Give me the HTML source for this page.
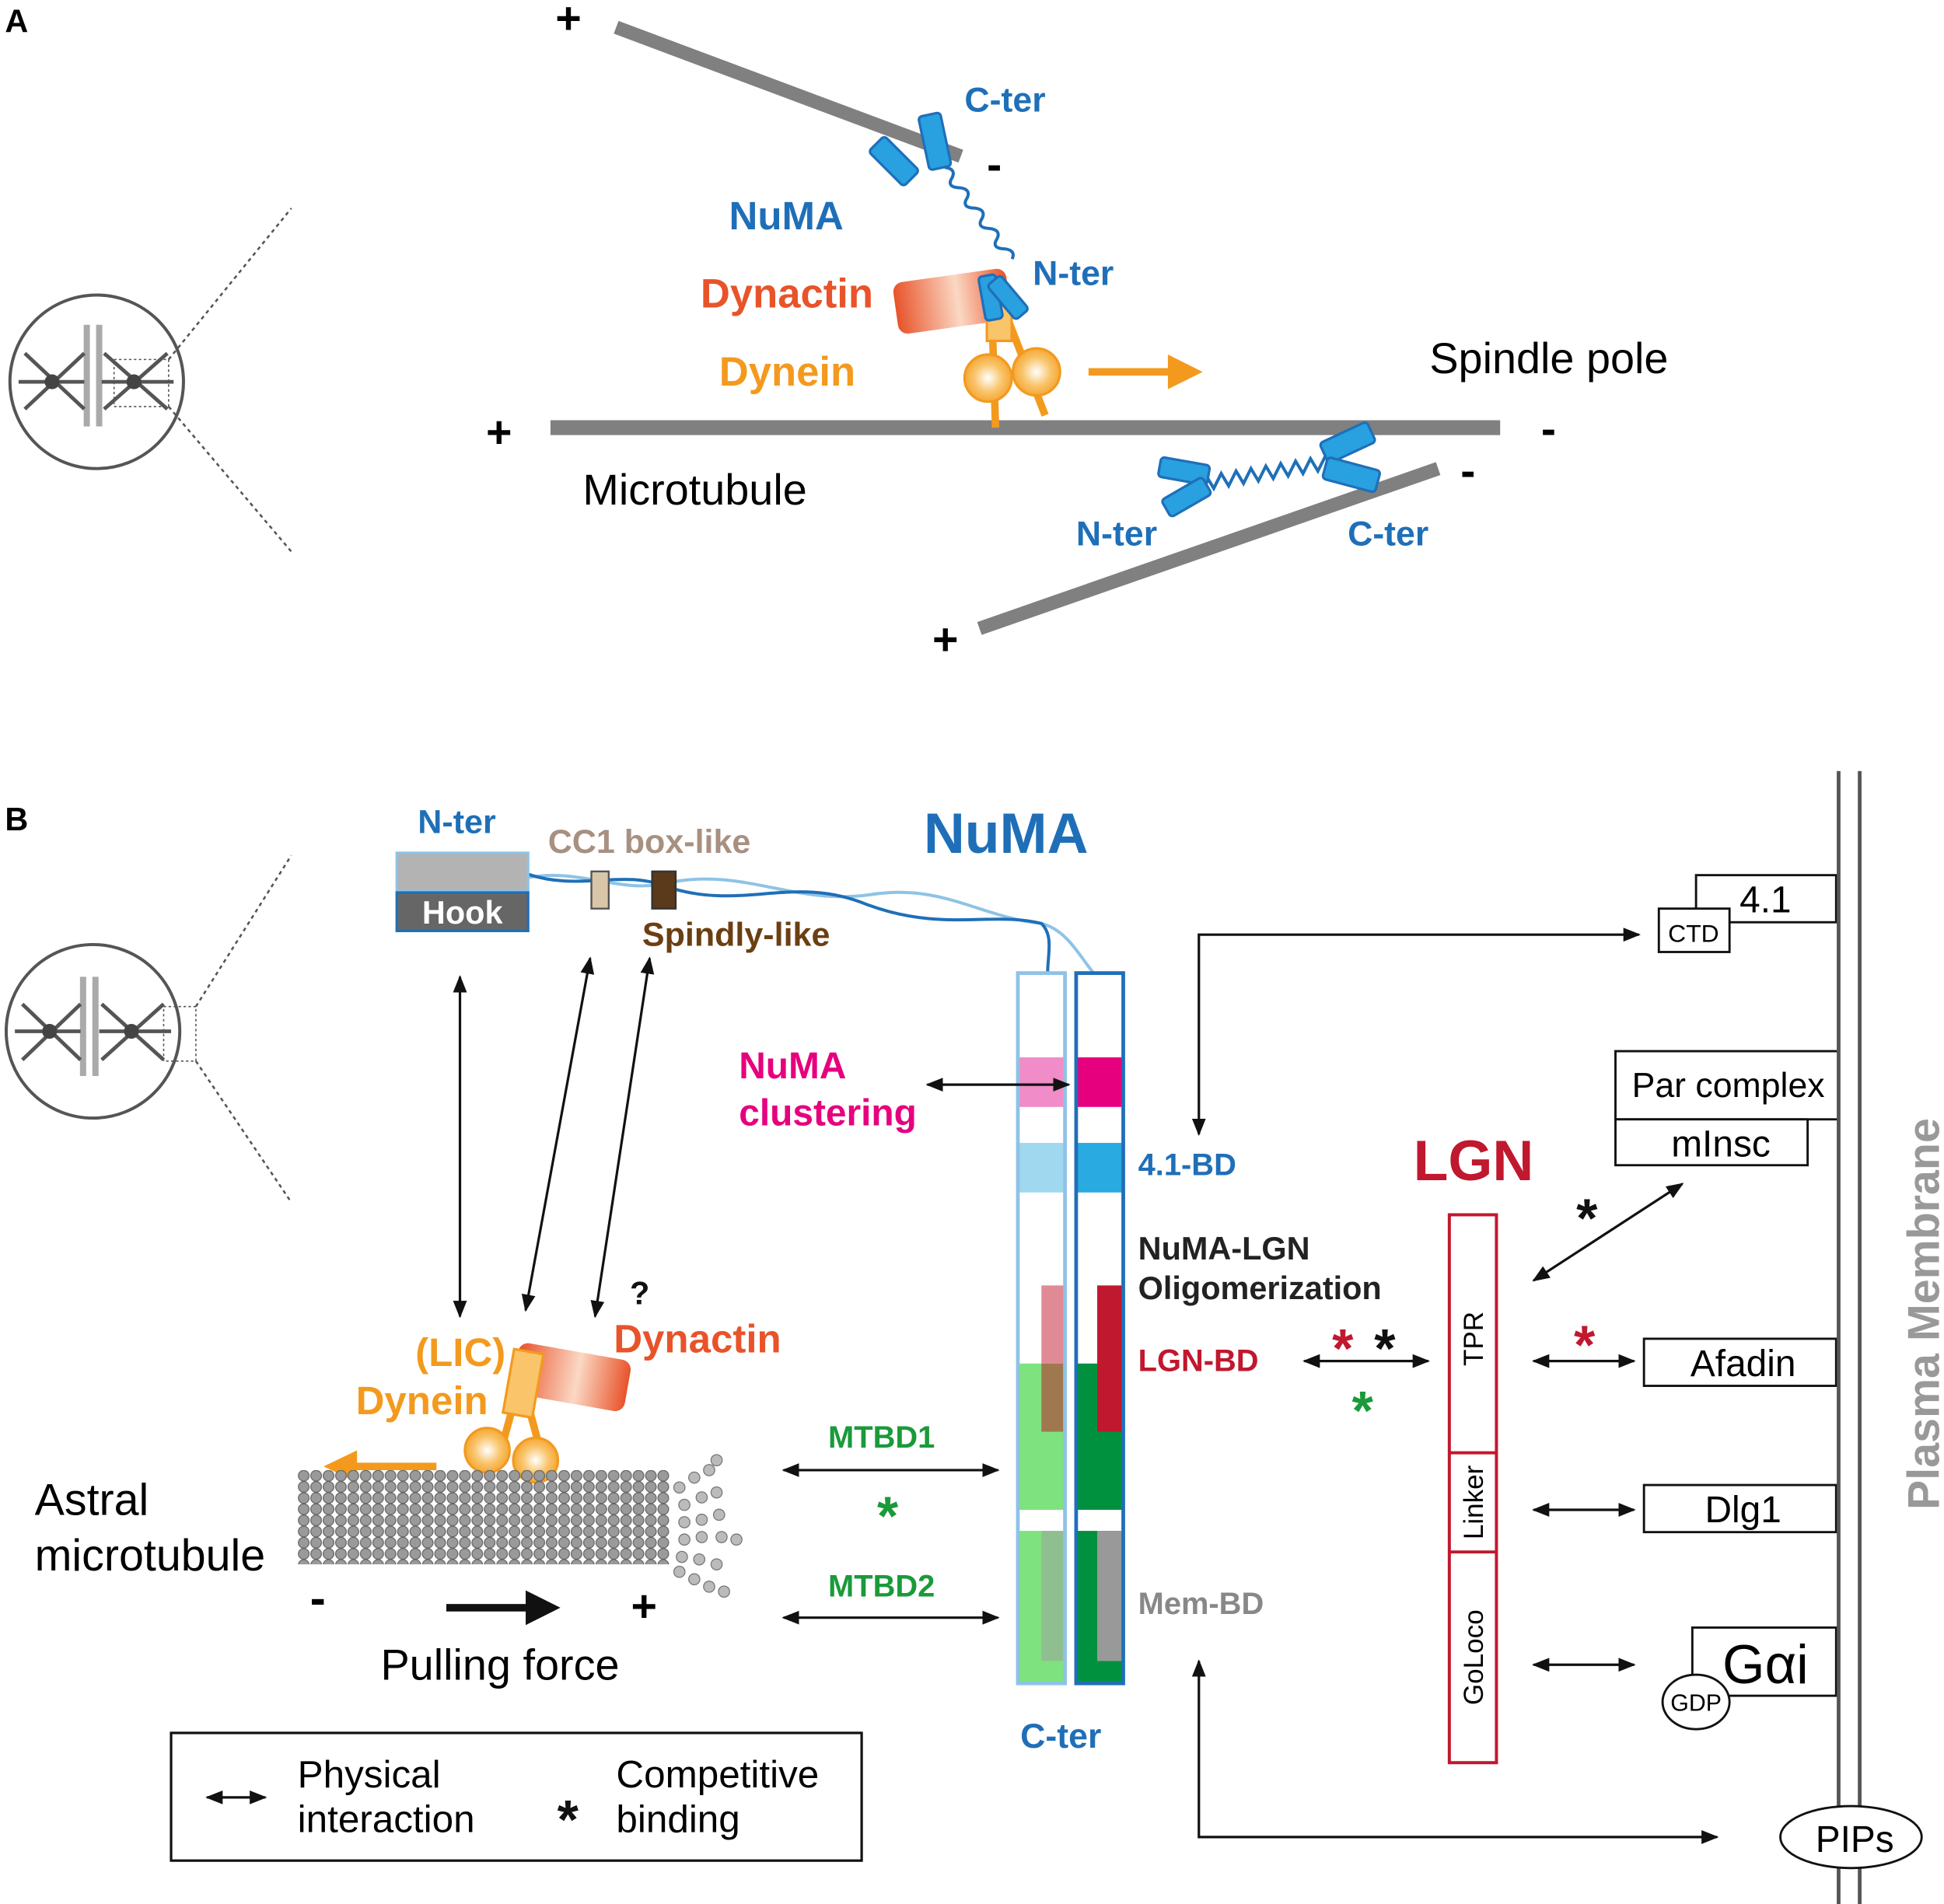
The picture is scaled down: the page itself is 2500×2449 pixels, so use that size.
<!DOCTYPE html>
<html><head><meta charset="utf-8"><style>
html,body{margin:0;padding:0;background:#fff}
svg{display:block}
text{font-family:"Liberation Sans",Arial,sans-serif}
</style></head><body>
<svg width="2500" height="2449" viewBox="0 0 1568 1536" xmlns="http://www.w3.org/2000/svg">
<defs>
<linearGradient id="dyn" x1="0" x2="1" y1="0" y2="0">
<stop offset="0" stop-color="#e8532a"/><stop offset="0.55" stop-color="#fbd8c4"/><stop offset="1" stop-color="#e8532a"/></linearGradient>
<radialGradient id="head" cx="0.5" cy="0.5" r="0.6"><stop offset="0" stop-color="#fff"/><stop offset="0.5" stop-color="#f9c46a"/><stop offset="1" stop-color="#f39a1e"/></radialGradient>
<pattern id="tub" x="240" y="1186" width="10" height="9" patternUnits="userSpaceOnUse">
<circle cx="5" cy="4.5" r="4.3" fill="#9a9a9a" stroke="#666" stroke-width="0.8"/></pattern>
<marker id="ah" viewBox="0 0 10 10" refX="9" refY="5" markerWidth="7" markerHeight="7" orient="auto-start-reverse"><path d="M0,1 L10,5 L0,9 z" fill="#111"/></marker>
</defs>

<!-- PANEL A -->
<text x="4" y="26" font-size="26" font-weight="bold">A</text>
<circle cx="78" cy="308" r="70" fill="none" stroke="#555" stroke-width="2.5"/>
<g stroke="#555" stroke-width="3">
<line x1="70" y1="262" x2="70" y2="344" stroke="#aaa" stroke-width="5"/><line x1="80" y1="262" x2="80" y2="344" stroke="#aaa" stroke-width="5"/>
<line x1="15" y1="308" x2="68" y2="308"/><line x1="20" y1="285" x2="68" y2="330"/><line x1="20" y1="330" x2="68" y2="285"/>
<line x1="82" y1="308" x2="140" y2="308"/><line x1="84" y1="285" x2="135" y2="330"/><line x1="84" y1="330" x2="135" y2="285"/>
</g><circle cx="42" cy="308" r="6" fill="#444"/><circle cx="108" cy="308" r="6" fill="#444"/>
<rect x="92" y="290" width="44" height="38" fill="none" stroke="#555" stroke-dasharray="2,2"/>
<line x1="136" y1="290" x2="235" y2="168" stroke="#555" stroke-width="1.6" stroke-dasharray="3,3"/>
<line x1="136" y1="328" x2="235" y2="445" stroke="#555" stroke-width="1.6" stroke-dasharray="3,3"/>

<line x1="497" y1="22" x2="775" y2="126" stroke="#808080" stroke-width="11"/>
<text x="448" y="27" font-size="36" font-weight="bold">+</text>
<text x="796" y="145" font-size="36" font-weight="bold">-</text>
<line x1="444" y1="345" x2="1210" y2="345" stroke="#808080" stroke-width="12"/>
<text x="392" y="361" font-size="36" font-weight="bold">+</text>
<text x="1243" y="358" font-size="36" font-weight="bold">-</text>
<line x1="790" y1="507" x2="1160" y2="378" stroke="#808080" stroke-width="11"/>
<text x="752" y="528" font-size="36" font-weight="bold">+</text>
<text x="1178" y="392" font-size="36" font-weight="bold">-</text>

<!-- upper NuMA -->
<path d="M762,135 q8,5 2,10 q-8,5 2,10 q8,5 2,10 q-8,5 2,10 q8,5 2,10 q-8,5 2,10 q8,5 2,10 q-8,5 2,10 q8,5 2,10" fill="none" stroke="#1f6fb8" stroke-width="2.5" transform="rotate(-25 762 135)"/>
<g fill="#29a0e0" stroke="#1f6fb8" stroke-width="2">
<rect x="745" y="92" width="18" height="44" rx="3" transform="rotate(-12 754 114)"/>
<rect x="712" y="110" width="18" height="40" rx="3" transform="rotate(-45 721 130)"/>
</g>
<rect x="722" y="222" width="92" height="42" rx="8" fill="url(#dyn)" transform="rotate(-8 768 243)"/>
<g stroke="#f39a1e" stroke-width="6" fill="none"><line x1="800" y1="250" x2="803" y2="345"/><line x1="810" y1="250" x2="843" y2="335"/></g>
<rect x="796" y="245" width="20" height="30" fill="#f9c46a" stroke="#f39a1e" stroke-width="2"/>
<circle cx="797" cy="305" r="19" fill="url(#head)" stroke="#f39a1e" stroke-width="2"/>
<circle cx="836" cy="300" r="19" fill="url(#head)" stroke="#f39a1e" stroke-width="2"/>
<g fill="#29a0e0" stroke="#1f6fb8" stroke-width="2">
<rect x="792" y="222" width="14" height="36" rx="3" transform="rotate(-10 799 240)"/>
<rect x="806" y="222" width="14" height="36" rx="3" transform="rotate(-40 813 240)"/>
</g>
<line x1="878" y1="300" x2="945" y2="300" stroke="#f39a1e" stroke-width="6"/>
<path d="M942,286 L970,300 L942,314 z" fill="#f39a1e"/>

<!-- lower NuMA -->
<path d="M965,392 l8,-8 l6,10 l6,-12 l6,10 l6,-12 l6,10 l6,-12 l6,10 l6,-12 l6,10 l6,-12 l6,10 l6,-12 l6,10 l6,-12 l6,10 l6,-12 l6,10 l8,-6" fill="none" stroke="#1f6fb8" stroke-width="2.5"/>
<g fill="#29a0e0" stroke="#1f6fb8" stroke-width="2">
<rect x="935" y="372" width="40" height="16" rx="3" transform="rotate(10 955 380)"/>
<rect x="938" y="393" width="38" height="16" rx="3" transform="rotate(-30 957 401)"/>
<rect x="1066" y="348" width="42" height="18" rx="3" transform="rotate(-25 1087 357)"/>
<rect x="1068" y="374" width="44" height="18" rx="3" transform="rotate(15 1090 383)"/>
</g>

<g font-weight="bold" font-size="28">
<text x="778" y="90" fill="#1f6fb8">C-ter</text>
<text x="588" y="185" fill="#1f6fb8" font-size="32">NuMA</text>
<text x="565" y="248" fill="#e8532a" font-size="33">Dynactin</text>
<text x="833" y="230" fill="#1f6fb8">N-ter</text>
<text x="580" y="311" fill="#f39a1e" font-size="33">Dynein</text>
<text x="868" y="440" fill="#1f6fb8">N-ter</text>
<text x="1087" y="440" fill="#1f6fb8">C-ter</text>
</g>
<text x="1153" y="301" font-size="35">Spindle pole</text>
<text x="470" y="407" font-size="35">Microtubule</text>

<!-- PANEL B -->
<text x="4" y="670" font-size="26" font-weight="bold">B</text>
<circle cx="75" cy="832" r="70" fill="none" stroke="#555" stroke-width="2.5"/>
<g stroke="#555" stroke-width="3">
<line x1="67" y1="788" x2="67" y2="868" stroke="#aaa" stroke-width="5"/><line x1="77" y1="788" x2="77" y2="868" stroke="#aaa" stroke-width="5"/>
<line x1="12" y1="832" x2="65" y2="832"/><line x1="18" y1="810" x2="65" y2="855"/><line x1="18" y1="855" x2="65" y2="810"/>
<line x1="80" y1="832" x2="138" y2="832"/><line x1="82" y1="810" x2="132" y2="855"/><line x1="82" y1="855" x2="132" y2="810"/>
</g><circle cx="40" cy="832" r="6" fill="#444"/><circle cx="106" cy="832" r="6" fill="#444"/>
<rect x="132" y="812" width="26" height="44" fill="none" stroke="#555" stroke-dasharray="2,2"/>
<line x1="158" y1="812" x2="235" y2="690" stroke="#555" stroke-width="1.6" stroke-dasharray="3,3"/>
<line x1="158" y1="856" x2="235" y2="970" stroke="#555" stroke-width="1.6" stroke-dasharray="3,3"/>

<!-- NuMA N-ter -->
<path d="M425,708 C470,700 500,722 540,712 C600,700 640,730 700,722 C760,712 790,740 840,745 C860,750 870,770 882,785" fill="none" stroke="#8ec3e6" stroke-width="2.5"/>
<path d="M425,705 C470,720 500,700 540,716 C600,735 640,705 700,730 C760,752 800,735 840,745 C850,755 845,770 845,785" fill="none" stroke="#1f6fb8" stroke-width="2.5"/>
<rect x="320" y="688" width="106" height="31" fill="#b3b3b3" stroke="#8ec3e6" stroke-width="2"/>
<rect x="320" y="720" width="106" height="31" fill="#666" stroke="#1f6fb8" stroke-width="2"/>
<text x="373" y="745" font-size="26" font-weight="bold" fill="#fff" text-anchor="middle">Hook</text>
<rect x="477" y="703" width="14" height="30" fill="#d9c6a8" stroke="#555" stroke-width="1.5"/>
<rect x="526" y="703" width="19" height="30" fill="#5a3a1a" stroke="#333" stroke-width="1.5"/>
<g font-weight="bold" font-size="27">
<text x="337" y="672" fill="#1f6fb8">N-ter</text>
<text x="442" y="688" fill="#a89080">CC1 box-like</text>
<text x="518" y="763" fill="#6b3f12">Spindly-like</text>
<text x="745" y="688" fill="#1f6fb8" font-size="46">NuMA</text>
<text x="596" y="870" fill="#e6007e" font-size="30">NuMA</text>
<text x="596" y="908" fill="#e6007e" font-size="30">clustering</text>
<text x="918" y="948" fill="#1f6fb8" font-size="25">4.1-BD</text>
<text x="918" y="1016" fill="#222" font-size="26">NuMA-LGN</text>
<text x="918" y="1048" fill="#222" font-size="26">Oligomerization</text>
<text x="918" y="1106" fill="#c0182e" font-size="25">LGN-BD</text>
<text x="918" y="1302" fill="#888" font-size="25">Mem-BD</text>
<text x="668" y="1168" fill="#1a9a3a" font-size="25">MTBD1</text>
<text x="668" y="1288" fill="#1a9a3a" font-size="25">MTBD2</text>
<text x="823" y="1410" fill="#1f6fb8" font-size="28">C-ter</text>
<text x="1140" y="952" fill="#c0182e" font-size="46">LGN</text>
<text x="508" y="1052" fill="#111" font-size="26">?</text>
</g>

<!-- columns -->
<g>
<rect x="822" y="853" width="37" height="40" fill="#f08cc8"/>
<rect x="869" y="853" width="37" height="40" fill="#e6007e"/>
<rect x="822" y="922" width="37" height="40" fill="#a0d8f0"/>
<rect x="869" y="922" width="37" height="40" fill="#29aae1"/>
<rect x="822" y="1100" width="37" height="118" fill="#7ee27e"/>
<rect x="869" y="1100" width="37" height="118" fill="#00913f"/>
<rect x="822" y="1235" width="37" height="122" fill="#7ee27e"/>
<rect x="869" y="1235" width="37" height="122" fill="#00913f"/>
<rect x="840" y="1037" width="18" height="63" fill="#e08a95"/>
<rect x="840" y="1100" width="18" height="55" fill="#a07850"/>
<rect x="885" y="1037" width="20" height="118" fill="#c0182e"/>
<rect x="840" y="1235" width="18" height="105" fill="#8fbf8f"/>
<rect x="885" y="1235" width="20" height="105" fill="#999"/>
<rect x="821" y="785" width="38" height="573" fill="none" stroke="#8ec3e6" stroke-width="3"/>
<rect x="868" y="785" width="38" height="573" fill="none" stroke="#1f6fb8" stroke-width="3"/>
</g>

<!-- arrows -->
<g stroke="#111" stroke-width="2" fill="none" marker-start="url(#ah)" marker-end="url(#ah)">
<line x1="371" y1="788" x2="371" y2="1062"/>
<line x1="476" y1="773" x2="424" y2="1057"/>
<line x1="524" y1="773" x2="480" y2="1062"/>
<line x1="748" y1="875" x2="862" y2="875"/>
<line x1="632" y1="1186" x2="805" y2="1186"/>
<line x1="632" y1="1305" x2="805" y2="1305"/>
<line x1="1052" y1="1098" x2="1152" y2="1098"/>
<line x1="1237" y1="1033" x2="1357" y2="955"/>
<line x1="1237" y1="1098" x2="1318" y2="1098"/>
<line x1="1237" y1="1218" x2="1318" y2="1218"/>
<line x1="1237" y1="1343" x2="1318" y2="1343"/>
<line x1="167" y1="1450" x2="214" y2="1450"/>
</g>
<g stroke="#111" stroke-width="2" fill="none">
<polyline points="967,915 967,754 1322,754" marker-start="url(#ah)" marker-end="url(#ah)"/>
<polyline points="967,1340 967,1482 1385,1482" marker-start="url(#ah)" marker-end="url(#ah)"/>
</g>
<g font-size="44" font-weight="bold">
<text x="716" y="1238" fill="#1a9a3a" text-anchor="middle">*</text>
<text x="1083" y="1103" fill="#c0182e" text-anchor="middle">*</text>
<text x="1117" y="1103" fill="#111" text-anchor="middle">*</text>
<text x="1099" y="1153" fill="#1a9a3a" text-anchor="middle">*</text>
<text x="1280" y="998" fill="#111" text-anchor="middle">*</text>
<text x="1278" y="1100" fill="#c0182e" text-anchor="middle">*</text>
<text x="458" y="1483" fill="#111" text-anchor="middle">*</text>
</g>

<!-- LGN box -->
<rect x="1169" y="980" width="38" height="442" fill="#fff" stroke="#c0182e" stroke-width="2.5"/>
<line x1="1169" y1="1172" x2="1207" y2="1172" stroke="#c0182e" stroke-width="2.5"/>
<line x1="1169" y1="1252" x2="1207" y2="1252" stroke="#c0182e" stroke-width="2.5"/>
<g font-size="22" text-anchor="middle">
<text transform="translate(1196,1080) rotate(-90)">TPR</text>
<text transform="translate(1196,1212) rotate(-90)">Linker</text>
<text transform="translate(1196,1337) rotate(-90)">GoLoco</text>
</g>

<!-- right boxes -->
<g fill="#fff" stroke="#111" stroke-width="1.8">
<rect x="1368" y="706" width="113" height="38"/>
<rect x="1338" y="733" width="57" height="35"/>
<rect x="1303" y="848" width="180" height="55"/>
<rect x="1303" y="903" width="155" height="37"/>
<rect x="1326" y="1080" width="155" height="38"/>
<rect x="1326" y="1198" width="155" height="38"/>
<rect x="1365" y="1313" width="116" height="55"/>
<ellipse cx="1368" cy="1373" rx="27" ry="22"/>
</g>
<line x1="1483" y1="622" x2="1483" y2="1536" stroke="#555" stroke-width="3"/>
<line x1="1500" y1="622" x2="1500" y2="1536" stroke="#555" stroke-width="3"/>
<ellipse cx="1493" cy="1482" rx="57" ry="25" fill="#fff" stroke="#111" stroke-width="1.8"/>
<g font-size="28" text-anchor="middle">
<text x="1424" y="736" font-size="30">4.1</text>
<text x="1366" y="760" font-size="20">CTD</text>
<text x="1394" y="885">Par complex</text>
<text x="1388" y="933" font-size="30">mInsc</text>
<text x="1406" y="1110" font-size="30">Afadin</text>
<text x="1406" y="1228" font-size="30">Dlg1</text>
<text x="1424" y="1358" font-size="44">Gαi</text>
<text x="1368" y="1380" font-size="19">GDP</text>
<text x="1496" y="1494" font-size="30">PIPs</text>
</g>
<text transform="translate(1564,1060) rotate(-90)" font-size="36" font-weight="bold" fill="#999" text-anchor="middle">Plasma Membrane</text>

<!-- dynein B -->
<rect x="415" y="1090" width="92" height="42" rx="8" fill="url(#dyn)" transform="rotate(10 461 1111)"/>
<g stroke="#f39a1e" stroke-width="6"><line x1="415" y1="1130" x2="400" y2="1185"/><line x1="425" y1="1130" x2="440" y2="1185"/></g>
<rect x="410" y="1090" width="24" height="52" fill="#f9c46a" stroke="#f39a1e" stroke-width="2" transform="rotate(10 422 1116)"/>
<circle cx="393" cy="1170" r="18" fill="url(#head)" stroke="#f39a1e" stroke-width="2"/>
<circle cx="432" cy="1178" r="18" fill="url(#head)" stroke="#f39a1e" stroke-width="2"/>
<line x1="352" y1="1183" x2="285" y2="1183" stroke="#f39a1e" stroke-width="6"/>
<path d="M288,1170 L261,1183 L288,1196 z" fill="#f39a1e"/>
<g font-weight="bold" font-size="32">
<text x="495" y="1091" fill="#e8532a">Dynactin</text>
<text x="335" y="1102" fill="#f39a1e">(LIC)</text>
<text x="287" y="1141" fill="#f39a1e">Dynein</text>
</g>

<!-- astral MT -->
<rect x="240" y="1186" width="300" height="76" fill="url(#tub)"/>
<g fill="#bbb" stroke="#777" stroke-width="0.8">
<circle cx="548" cy="1200" r="4.5"/><circle cx="560" cy="1192" r="4.5"/><circle cx="572" cy="1186" r="4.5"/><circle cx="578" cy="1178" r="4.5"/>
<circle cx="552" cy="1214" r="4.5"/><circle cx="566" cy="1208" r="4.5"/><circle cx="578" cy="1204" r="4.5"/>
<circle cx="552" cy="1228" r="4.5"/><circle cx="566" cy="1226" r="4.5"/><circle cx="580" cy="1222" r="4.5"/>
<circle cx="552" cy="1242" r="4.5"/><circle cx="566" cy="1240" r="4.5"/><circle cx="582" cy="1240" r="4.5"/><circle cx="594" cy="1242" r="4.5"/>
<circle cx="550" cy="1256" r="4.5"/><circle cx="564" cy="1258" r="4.5"/><circle cx="578" cy="1262" r="4.5"/>
<circle cx="548" cy="1268" r="4.5"/><circle cx="560" cy="1274" r="4.5"/><circle cx="572" cy="1280" r="4.5"/><circle cx="584" cy="1284" r="4.5"/>
</g>
<text x="28" y="1222" font-size="36">Astral</text>
<text x="28" y="1267" font-size="36">microtubule</text>
<text x="250" y="1302" font-size="38" font-weight="bold">-</text>
<line x1="360" y1="1297" x2="428" y2="1297" stroke="#111" stroke-width="6"/>
<path d="M424,1283 L452,1297 L424,1311 z" fill="#111"/>
<text x="509" y="1308" font-size="36" font-weight="bold">+</text>
<text x="307" y="1355" font-size="35">Pulling force</text>

<!-- legend -->
<rect x="138" y="1398" width="557" height="103" fill="none" stroke="#111" stroke-width="2"/>
<g font-size="31">
<text x="240" y="1442">Physical</text>
<text x="240" y="1478">interaction</text>
<text x="497" y="1442">Competitive</text>
<text x="497" y="1478">binding</text>
</g>
</svg>
</body></html>
